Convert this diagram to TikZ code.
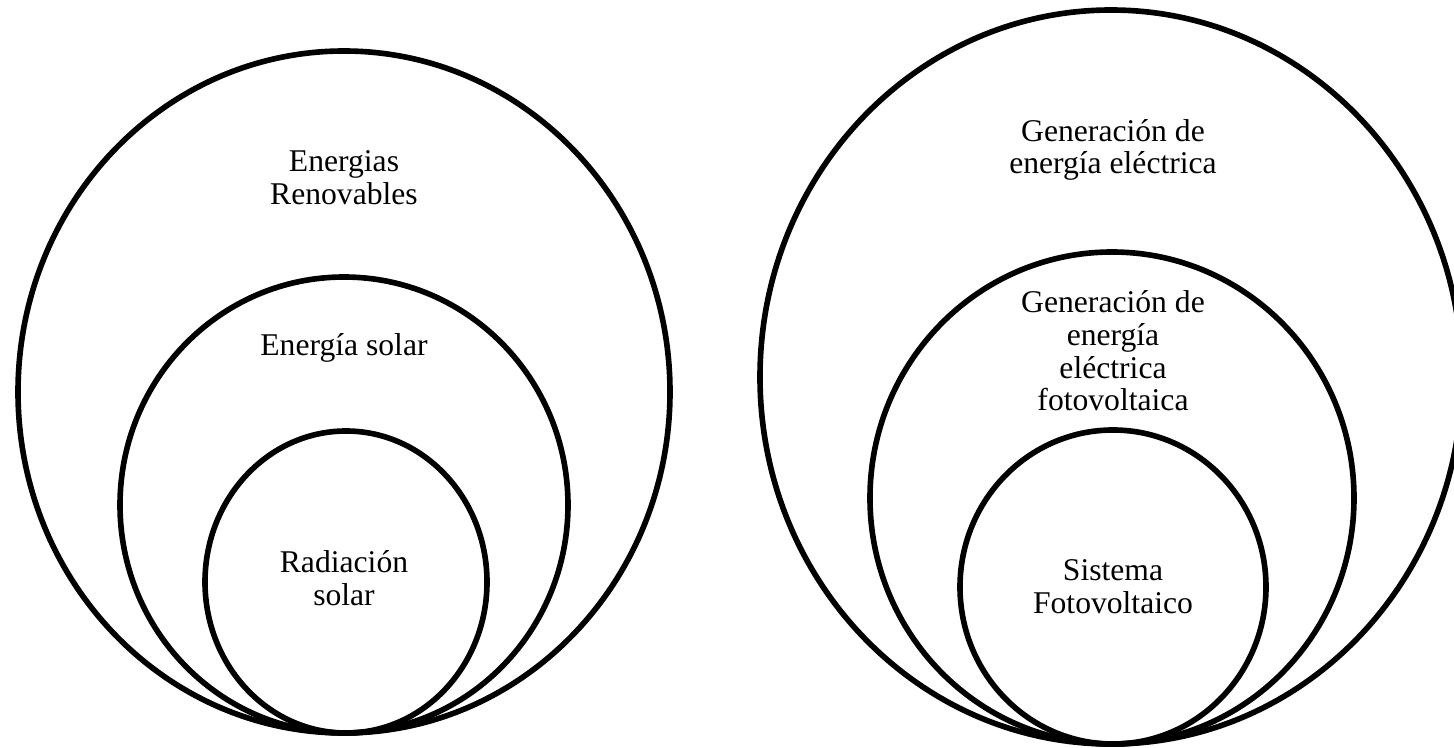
\documentclass[tikz,border=0pt]{standalone}
\usepackage{fontspec}
\setmainfont{Liberation Serif}
\tikzset{
	ring/.style={black, line width=1.6pt},
	ringlabel/.style={align=center, inner sep=0pt, font=\fontsize{9}{9.3}\selectfont}
}

\begin{document}
\begin{tikzpicture}
		\useasboundingbox (0,0) rectangle (14.54,-7.48);

		% Left set: renewable energies
		\draw[ring] (3.44,-3.92) ellipse (3.26 and 3.41);
		\draw[ring] (3.44,-5.05) ellipse (2.24 and 2.28);
		\draw[ring] (3.46,-5.82) ellipse (1.41 and 1.51);

		\node[ringlabel] (renov) at (3.44,-1.78) {Energias\\Renovables};
		\node[ringlabel] (solar) at (3.44,-3.48) {Energía solar};
		\node[ringlabel] (radiac) at (3.44,-5.78) {Radiación\\solar};

		% -----------------------------------------------------
		% Right set: electric generation
		\draw[ring] (11.11,-3.77) ellipse (3.51 and 3.67);
		\draw[ring] (11.12,-4.98) ellipse (2.42 and 2.46);
		\draw[ring] (11.13,-5.87) ellipse (1.53 and 1.57);

		\node[ringlabel] (gener) at (11.13,-1.50) {Generación de\\energía eléctrica};
		\node[ringlabel] (genfv) at (11.13,-3.51) {Generación de\\energía\\eléctrica\\fotovoltaica};
		\node[ringlabel] (sistfv) at (11.13,-5.87) {Sistema\\Fotovoltaico};

\end{tikzpicture}
\end{document}
